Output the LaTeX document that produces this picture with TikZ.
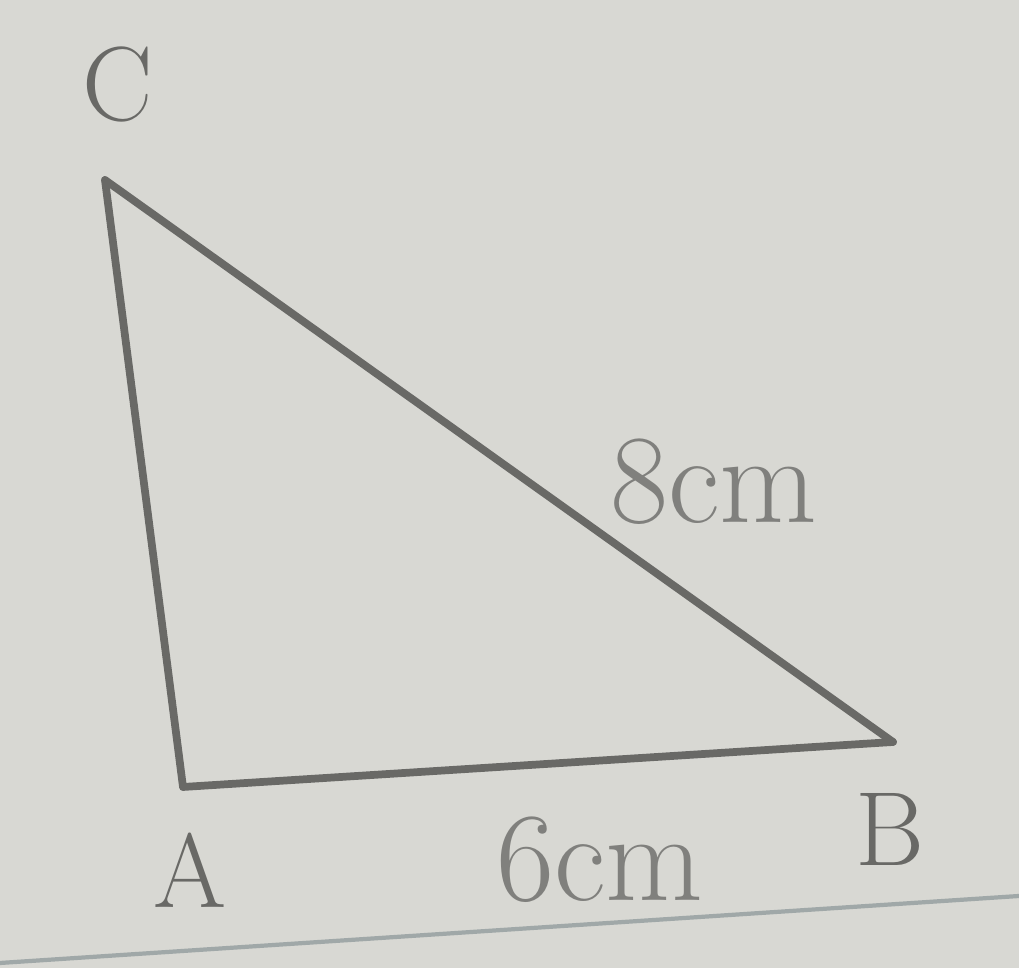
\documentclass[tikz,border=0pt]{standalone}
\usepackage{tikz}
\usepackage{xcolor}
\definecolor{paper}{RGB}{216,216,211}
\definecolor{pencil}{RGB}{105,105,102}
\definecolor{rule}{RGB}{160,168,168}
\begin{document}
\begin{tikzpicture}[
  line width=2.2pt,  vertex/.style={inner sep=0pt,text=pencil,font=\fontsize{30}{34}\selectfont},  side/.style={inner sep=0pt,text=pencil!85,font=\fontsize{36}{40}\selectfont},  edge/.style={draw=pencil,line cap=round,line join=round}
]
  \fill[paper] (0,0) rectangle (10.19,9.68);
  \useasboundingbox (0,0) rectangle (10.19,9.68);
  \draw[rule,line width=1.2pt] (0,0.05) -- (10.19,0.72);
  \coordinate (c) at (1.05,7.88);
  \coordinate (a) at (1.83,1.81);
  \coordinate (b) at (8.93,2.26);
  \node[vertex] (lc) at (1.18,8.83) {C};
  \node[vertex] (la) at (1.90,0.98) {A};
  \node[vertex] (lb) at (8.90,1.38) {B};
  \node[side] (hyp) at (7.14,4.86) {8cm};
  \node[side] (base) at (6.00,1.08) {6cm};
  \draw[edge] (c) -- (a);
  \draw[edge] (a) -- (b);
  \draw[edge] (b) -- (c);
\end{tikzpicture}
\end{document}
